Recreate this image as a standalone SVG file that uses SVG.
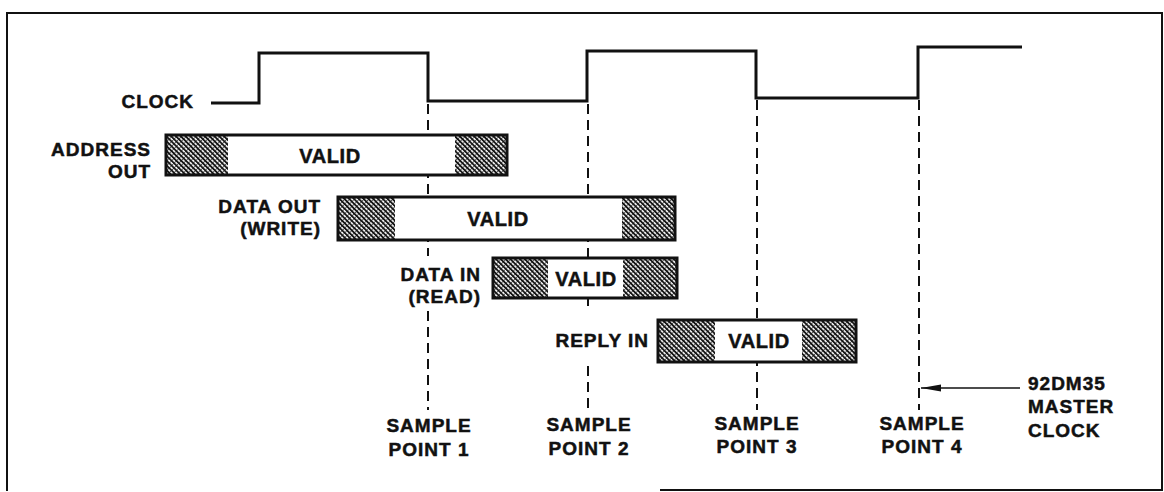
<svg xmlns="http://www.w3.org/2000/svg" width="1164" height="492" viewBox="0 0 1164 492">
  <style>
    .lbl { font-family: "Liberation Sans", Arial, sans-serif; font-weight: bold; font-size: 19px; letter-spacing: 1px; fill: #111; stroke: #111; stroke-width: 0.5px; }
    .end { text-anchor: end; }
    .mid { text-anchor: middle; }
    .val { font-family: "Liberation Sans", Arial, sans-serif; font-weight: bold; font-size: 20px; letter-spacing: 0.6px; fill: #111; stroke: #111; stroke-width: 0.5px; text-anchor: middle; }
    .frame { fill: none; stroke: #111; stroke-width: 2; }
    .wave { fill: none; stroke: #111; stroke-width: 3; stroke-linejoin: miter; }
    .box { fill: none; stroke: #111; stroke-width: 3; }
    .sample { stroke: #111; stroke-width: 2; stroke-dasharray: 10 6; fill: none; }
    .lead { stroke: #111; stroke-width: 1.5; fill: none; }
  </style>
  <defs>
    <pattern id="hatch" width="3.4" height="3.4" patternUnits="userSpaceOnUse" patternTransform="rotate(-45)">
      <rect width="3.4" height="3.4" fill="#f4f4f4"/>
      <rect width="1.8" height="3.4" fill="#151515"/>
      <rect y="0" width="3.4" height="0.6" fill="#151515"/>
    </pattern>
    <marker id="arrowL" markerUnits="userSpaceOnUse" markerWidth="22" markerHeight="8" refX="20" refY="3.5" orient="auto">
      <path d="M0,0 L20,3.5 L0,7 z" fill="#111"/>
    </marker>
  </defs>

  <rect width="1164" height="492" fill="#fff"/>

  <!-- outer frame -->
  <path class="frame" d="M7,491 V13 H1162 V490 H660"/>

  <!-- sample point guides and leader -->
  <g id="connectors">
    <line class="sample" x1="428" y1="104" x2="428" y2="256"/>
    <line class="sample" x1="428" y1="311" x2="428" y2="410"/>
    <line class="sample" x1="588" y1="104" x2="588" y2="306"/>
    <line class="sample" x1="588" y1="366" x2="588" y2="410"/>
    <line class="sample" x1="757" y1="100" x2="757" y2="410"/>
    <line class="sample" x1="919" y1="100" x2="919" y2="410"/>
    <line class="lead" x1="1020" y1="388" x2="921" y2="388" marker-end="url(#arrowL)"/>
  </g>

  <!-- clock waveform -->
  <g id="clock">
    <text class="lbl end" x="194" y="108">CLOCK</text>
    <path class="wave" d="M211,103 H259 V53 H428 V101 H587 V51 H756 V98 H918 V47 H1022"/>
  </g>

  <!-- address out -->
  <g id="address-out">
    <text class="lbl end" x="151" y="156">ADDRESS</text>
    <text class="lbl end" x="151" y="178">OUT</text>
    <rect x="166" y="135" width="341" height="40" fill="#fff"/>
    <rect x="166" y="135" width="62" height="40" fill="url(#hatch)"/>
    <rect x="455" y="135" width="52" height="40" fill="url(#hatch)"/>
    <rect class="box" x="166" y="135" width="341" height="40"/>
    <text class="val" x="330" y="163">VALID</text>
  </g>

  <!-- data out (write) -->
  <g id="data-out">
    <text class="lbl end" x="321" y="213">DATA OUT</text>
    <text class="lbl end" x="321" y="235">(WRITE)</text>
    <rect x="338" y="197" width="337" height="43" fill="#fff"/>
    <rect x="338" y="197" width="57" height="43" fill="url(#hatch)"/>
    <rect x="622" y="197" width="53" height="43" fill="url(#hatch)"/>
    <rect class="box" x="338" y="197" width="337" height="43"/>
    <text class="val" x="498" y="226">VALID</text>
  </g>

  <!-- data in (read) -->
  <g id="data-in">
    <text class="lbl end" x="481" y="281">DATA IN</text>
    <text class="lbl end" x="481" y="303">(READ)</text>
    <rect x="493" y="258" width="184" height="40" fill="#fff"/>
    <rect x="493" y="258" width="55" height="40" fill="url(#hatch)"/>
    <rect x="623" y="258" width="54" height="40" fill="url(#hatch)"/>
    <rect class="box" x="493" y="258" width="184" height="40"/>
    <text class="val" x="586" y="286">VALID</text>
  </g>

  <!-- reply in -->
  <g id="reply-in">
    <text class="lbl end" x="649" y="347">REPLY IN</text>
    <rect x="658" y="320" width="198" height="42" fill="#fff"/>
    <rect x="658" y="320" width="57" height="42" fill="url(#hatch)"/>
    <rect x="802" y="320" width="54" height="42" fill="url(#hatch)"/>
    <rect class="box" x="658" y="320" width="198" height="42"/>
    <text class="val" x="759" y="348">VALID</text>
  </g>

  <!-- sample point labels -->
  <g id="sample-1">
    <text class="lbl mid" x="429" y="432">SAMPLE</text>
    <text class="lbl mid" x="429" y="456">POINT 1</text>
  </g>
  <g id="sample-2">
    <text class="lbl mid" x="589" y="431">SAMPLE</text>
    <text class="lbl mid" x="589" y="455">POINT 2</text>
  </g>
  <g id="sample-3">
    <text class="lbl mid" x="757" y="430">SAMPLE</text>
    <text class="lbl mid" x="757" y="453">POINT 3</text>
  </g>
  <g id="sample-4">
    <text class="lbl mid" x="922" y="430">SAMPLE</text>
    <text class="lbl mid" x="922" y="453">POINT 4</text>
  </g>

  <!-- master clock note -->
  <g id="master-clock">
    <text class="lbl" x="1028" y="390">92DM35</text>
    <text class="lbl" x="1028" y="413">MASTER</text>
    <text class="lbl" x="1028" y="437">CLOCK</text>
  </g>
</svg>
